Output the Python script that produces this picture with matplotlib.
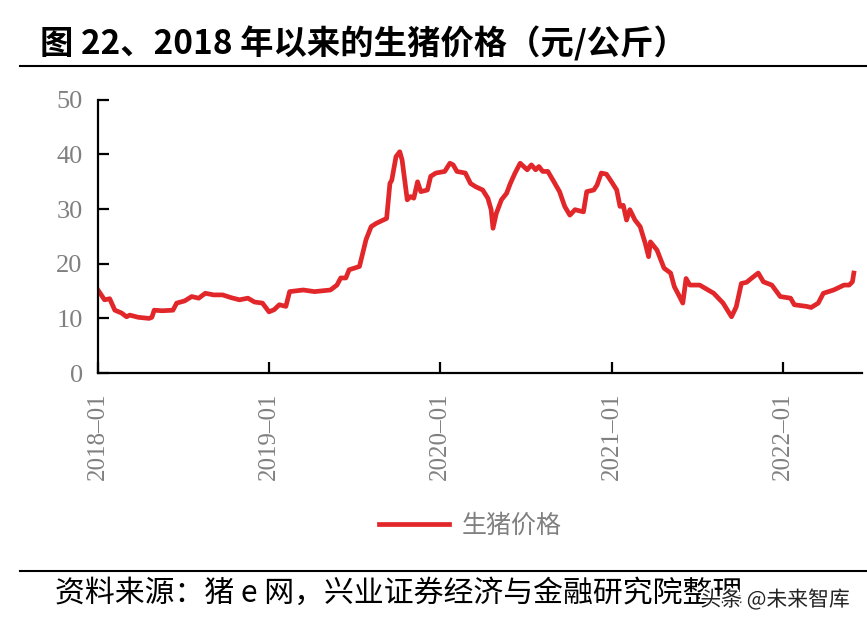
import matplotlib
matplotlib.use("Agg")
import matplotlib.pyplot as plt
import matplotlib.dates as mdates
import matplotlib.patheffects as pe
from matplotlib.lines import Line2D
import pandas as pd

plt.rcParams['font.family'] = ['Noto Sans CJK SC', 'DejaVu Sans']

# weekly hog price (yuan/kg)
dates = [
    "2018-01-01", "2018-01-15", "2018-01-26", "2018-02-06", "2018-02-20", "2018-03-03",
    "2018-03-10", "2018-03-28", "2018-04-20", "2018-04-26", "2018-05-01", "2018-05-18",
    "2018-06-10", "2018-06-18", "2018-07-05", "2018-07-20", "2018-08-04", "2018-08-18",
    "2018-09-05", "2018-09-24", "2018-10-12", "2018-10-30", "2018-11-17", "2018-12-01",
    "2018-12-18", "2019-01-01", "2019-01-12", "2019-01-23", "2019-02-06", "2019-02-14",
    "2019-03-15", "2019-04-08", "2019-05-12", "2019-05-26", "2019-06-03", "2019-06-14",
    "2019-06-21", "2019-07-13", "2019-07-27", "2019-08-07", "2019-08-18", "2019-09-09",
    "2019-09-16", "2019-09-20", "2019-09-29", "2019-10-07", "2019-10-12", "2019-10-23",
    "2019-10-30", "2019-11-06", "2019-11-14", "2019-11-21", "2019-12-05", "2019-12-12",
    "2019-12-23", "2020-01-11", "2020-01-22", "2020-01-29", "2020-02-06", "2020-02-24",
    "2020-03-06", "2020-03-17", "2020-04-01", "2020-04-12", "2020-04-19", "2020-04-23",
    "2020-04-30", "2020-05-11", "2020-05-22", "2020-05-30", "2020-06-09", "2020-06-20",
    "2020-07-05", "2020-07-14", "2020-07-23", "2020-07-30", "2020-08-07", "2020-08-18",
    "2020-08-29", "2020-09-12", "2020-09-23", "2020-10-04", "2020-10-15", "2020-11-02",
    "2020-11-09", "2020-11-24", "2020-12-01", "2020-12-10", "2020-12-21", "2021-01-01",
    "2021-01-12", "2021-01-19", "2021-01-26", "2021-02-02", "2021-02-09", "2021-02-20",
    "2021-03-03", "2021-03-14", "2021-03-21", "2021-03-25", "2021-04-08", "2021-04-23",
    "2021-05-07", "2021-05-15", "2021-05-26", "2021-06-02", "2021-06-09", "2021-06-17",
    "2021-07-08", "2021-08-07", "2021-08-27", "2021-09-14", "2021-09-24", "2021-10-05",
    "2021-10-16", "2021-10-26", "2021-11-10", "2021-11-21", "2021-12-09", "2021-12-27",
    "2022-01-18", "2022-01-26", "2022-02-21", "2022-03-03", "2022-03-18", "2022-03-29",
    "2022-04-20", "2022-05-12", "2022-05-23", "2022-05-30", "2022-06-02",
]
prices = [
    15.2, 13.4, 13.6, 11.5, 11.0, 10.3,
    10.6, 10.2, 10.0, 10.2, 11.5, 11.4,
    11.5, 12.8, 13.2, 14.0, 13.7, 14.6,
    14.3, 14.3, 13.8, 13.4, 13.7, 13.0,
    12.8, 11.2, 11.6, 12.5, 12.2, 14.9,
    15.2, 14.9, 15.2, 16.1, 17.4, 17.4,
    18.9, 19.5, 24.4, 26.8, 27.4, 28.3,
    34.7, 35.3, 39.6, 40.5, 39.0, 31.7,
    32.3, 32.0, 35.0, 33.2, 33.5, 36.0,
    36.6, 36.9, 38.4, 38.1, 36.9, 36.6,
    34.7, 34.1, 33.5, 32.0, 29.9, 26.5,
    29.2, 31.7, 32.9, 34.7, 36.6, 38.4,
    37.2, 38.1, 37.2, 37.8, 36.9, 36.9,
    35.3, 33.2, 30.5, 28.9, 29.9, 29.5,
    33.2, 33.5, 34.4, 36.6, 36.4, 35.0,
    33.5, 30.5, 30.7, 28.0, 29.9, 28.0,
    26.8, 23.7, 21.3, 24.0, 22.5, 19.2,
    18.3, 15.8, 14.0, 12.8, 17.3, 16.1,
    16.1, 14.6, 12.8, 10.3, 12.1, 16.4,
    16.6, 17.3, 18.3, 16.7, 16.1, 14.0,
    13.7, 12.5, 12.2, 12.0, 12.8, 14.6,
    15.2, 16.1, 16.1, 16.7, 18.3,
]
series_name = "生猪价格"
title = "图 22、2018 年以来的生猪价格（元/公斤）"
source = "资料来源：猪 e 网，兴业证券经济与金融研究院整理"
yticks = [0, 10, 20, 30, 40, 50]

x = pd.to_datetime(dates)

fig = plt.figure(figsize=(8.67, 6.28), dpi=100)
ax = fig.add_axes([0.113, 0.406, 0.881, 0.435])

ax.plot(x, prices, color="#e2272b", lw=3.4, label=series_name, solid_joinstyle="round")

ax.set_ylim(0, 50)
ax.set_yticks(yticks)
ax.set_xlim(pd.Timestamp("2018-01-01"), pd.Timestamp("2022-06-19"))
ax.xaxis.set_major_locator(mdates.YearLocator())
ax.xaxis.set_major_formatter(mdates.DateFormatter("%Y\u2013%m"))

for s in ["top", "right"]:
    ax.spines[s].set_visible(False)
for s in ["left", "bottom"]:
    ax.spines[s].set_linewidth(1.6)

ax.tick_params(axis="both", direction="in", length=8, width=1.6, colors="black",
               labelcolor="#808080")
ax.tick_params(axis="y", pad=11)
ax.tick_params(axis="x", pad=14)
for lab in ax.get_yticklabels():
    lab.set_fontfamily("Liberation Serif")
    lab.set_fontsize(19)
for lab in ax.get_xticklabels():
    lab.set_fontfamily("Liberation Serif")
    lab.set_fontsize(18)
    lab.set_rotation(90)

leg = fig.legend(loc="center", bbox_to_anchor=(470 / 867, 1 - 526 / 628), frameon=False,
                 handlelength=2.8, handletextpad=0.5, prop={"size": 18})
for t in leg.get_texts():
    t.set_color("#808080")

fig.text(40 / 867, 1 - 44 / 628, title, fontsize=24, fontweight="bold", va="center",
         ha="left", color="black")
fig.add_artist(Line2D([20 / 867, 1], [1 - 66 / 628] * 2, transform=fig.transFigure,
                      color="black", lw=1.5))
fig.add_artist(Line2D([20 / 867, 1], [1 - 571 / 628] * 2, transform=fig.transFigure,
                      color="black", lw=1.5))
fig.text(55 / 867, 1 - 593 / 628, source, fontsize=21.5, va="center", ha="left", color="black")
fig.text(850 / 867, 1 - 600 / 628, "头条 @未来智库", fontsize=15, va="center", ha="right",
         color="#222222", path_effects=[pe.withStroke(linewidth=2.5, foreground="white")])

fig.savefig("out.png", dpi=100)
